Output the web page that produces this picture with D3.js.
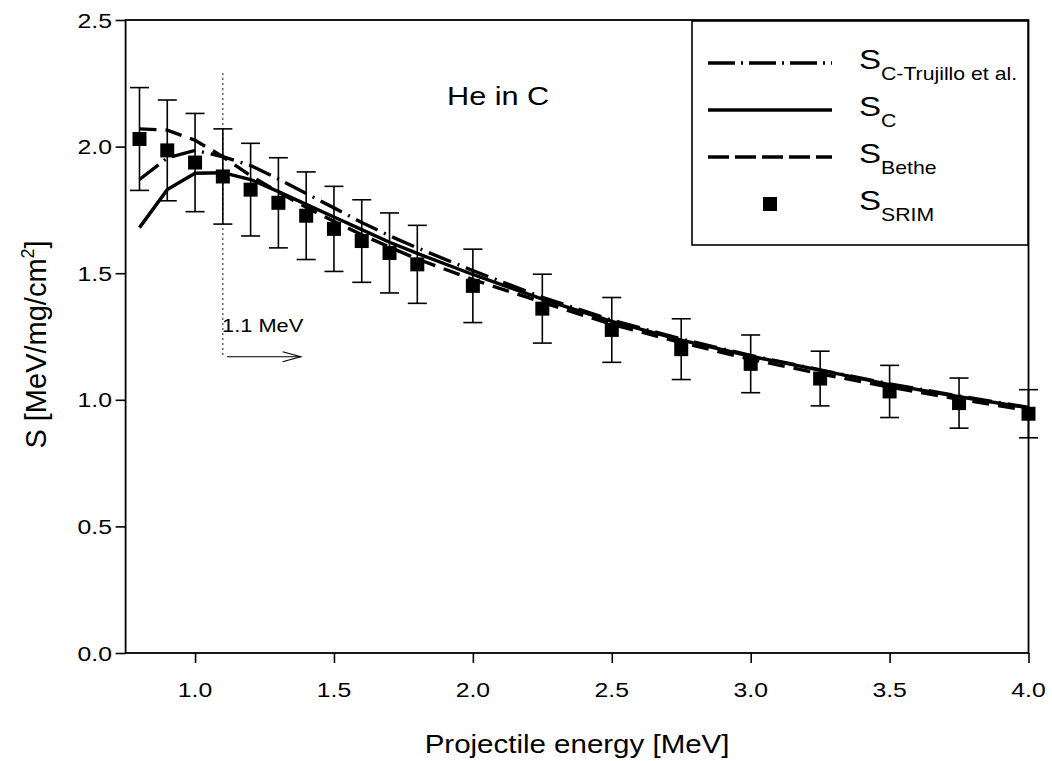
<!DOCTYPE html>
<html>
<head>
<meta charset="utf-8">
<script src="https://cdnjs.cloudflare.com/ajax/libs/d3/7.8.5/d3.min.js"></script>
<style>
  html, body { margin: 0; padding: 0; background: #fff; }
  svg { display: block; }
  text { font-family: "Liberation Sans", Arial, Helvetica, sans-serif; fill: #000; }
</style>
</head>
<body>
<svg id="chart" width="1052" height="761"></svg>
<script>
// ---- data ----
const energies = [0.8, 0.9, 1.0, 1.1, 1.2, 1.3, 1.4, 1.5, 1.6, 1.7, 1.8, 2.0, 2.25, 2.5, 2.75, 3.0, 3.25, 3.5, 3.75, 4.0];
const sTrujillo = [1.87, 1.955, 1.985, 1.96, 1.925, 1.872, 1.815, 1.758, 1.7, 1.648, 1.6, 1.51, 1.405, 1.315, 1.24, 1.175, 1.118, 1.063, 1.015, 0.97];
const sC        = [1.68, 1.83, 1.895, 1.897, 1.87, 1.822, 1.772, 1.722, 1.672, 1.622, 1.578, 1.495, 1.398, 1.31, 1.236, 1.172, 1.117, 1.06, 1.012, 0.968];
const sBethe    = [2.07, 2.065, 2.025, 1.96, 1.885, 1.82, 1.76, 1.705, 1.652, 1.603, 1.556, 1.475, 1.385, 1.298, 1.226, 1.16, 1.103, 1.05, 1.002, 0.958];
const sSRIM     = [2.03, 1.985, 1.937, 1.882, 1.83, 1.778, 1.727, 1.675, 1.627, 1.58, 1.535, 1.45, 1.36, 1.276, 1.2, 1.142, 1.084, 1.033, 0.987, 0.945];
const sSRIMerr  = [0.203, 0.199, 0.194, 0.188, 0.183, 0.178, 0.173, 0.168, 0.163, 0.158, 0.154, 0.145, 0.136, 0.128, 0.12, 0.114, 0.108, 0.103, 0.099, 0.095];
const xTicks = [1.0, 1.5, 2.0, 2.5, 3.0, 3.5, 4.0];
const yTicks = [0.0, 0.5, 1.0, 1.5, 2.0, 2.5];
const markerEnergy = 1.1;
const markerRange = [1.17, 2.29];
const arrowRange = [1.115, 1.38];
const arrowLevel = 1.17;

// ---- layout ----
const svg = d3.select("#chart");
const L = 125.6, R = 1028.5, T = 20, B = 653;
const x = d3.scaleLinear().domain([0.75, 4.0]).range([L, R]);
const y = d3.scaleLinear().domain([0, 2.5]).range([B, T]);
const SX = 1.18; // horizontal text stretch

function stext(g, px, py, str, size, anchor) {
  return g.append("text")
    .attr("transform", `translate(${px},${py}) scale(${SX},1)`)
    .attr("font-size", size)
    .attr("text-anchor", anchor || "start")
    .text(str);
}

// axes
const xAxis = svg.append("g").attr("transform", `translate(0,${B})`)
  .call(d3.axisBottom(x).tickValues(xTicks).tickSize(10).tickFormat(""));
const yAxis = svg.append("g").attr("transform", `translate(${L},0)`)
  .call(d3.axisLeft(y).tickValues(yTicks).tickSize(10).tickFormat(""));
[xAxis, yAxis].forEach(a => {
  a.select(".domain").remove();
  a.selectAll(".tick line").attr("stroke", "#000").attr("stroke-width", 1.6);
});
xTicks.forEach(v => stext(svg, x(v), 697, d3.format(".1f")(v), 21, "middle"));
yTicks.forEach(v => stext(svg, 112, y(v) + 7.5, d3.format(".1f")(v), 21, "end"));

// frame
svg.append("rect").attr("x", L).attr("y", T).attr("width", R - L).attr("height", B - T)
  .attr("fill", "none").attr("stroke", "#000").attr("stroke-width", 1.8);

// axis titles
stext(svg, (L + R) / 2, 753, "Projectile energy [MeV]", 25, "middle");
const yt = svg.append("text")
  .attr("transform", `translate(46,${(T + B) / 2 + 8}) rotate(-90)`)
  .attr("font-size", 29).attr("text-anchor", "middle");
yt.append("tspan").text("S [MeV/mg/cm");
yt.append("tspan").attr("font-size", 18).attr("dy", -12).text("2");
yt.append("tspan").attr("dy", 12).text("]");

// curves
const line = d3.line().x(d => x(d[0])).y(d => y(d[1]));
const series = [
  { vals: sTrujillo, dash: "24,7,2,7" },
  { vals: sC, dash: null },
  { vals: sBethe, dash: "17,9" }
];
series.forEach(s => {
  svg.append("path")
    .datum(energies.map((e, i) => [e, s.vals[i]]))
    .attr("d", line)
    .attr("fill", "none").attr("stroke", "#000").attr("stroke-width", 3.4)
    .attr("stroke-dasharray", s.dash);
});

// error bars + squares
const pts = energies.map((e, i) => ({ e, v: sSRIM[i], err: sSRIMerr[i] }));
const eb = svg.append("g").attr("stroke", "#000").attr("stroke-width", 1.6);
pts.forEach(p => {
  eb.append("line").attr("x1", x(p.e)).attr("x2", x(p.e)).attr("y1", y(p.v - p.err)).attr("y2", y(p.v + p.err));
  [p.v - p.err, p.v + p.err].forEach(w => {
    eb.append("line").attr("x1", x(p.e) - 9.5).attr("x2", x(p.e) + 9.5).attr("y1", y(w)).attr("y2", y(w));
  });
});
svg.append("g").selectAll("rect").data(pts).join("rect")
  .attr("x", d => x(d.e) - 7).attr("y", d => y(d.v) - 7)
  .attr("width", 14).attr("height", 14).attr("fill", "#000");

// 1.1 MeV marker
svg.append("line")
  .attr("x1", x(markerEnergy)).attr("x2", x(markerEnergy))
  .attr("y1", y(markerRange[1])).attr("y2", y(markerRange[0]))
  .attr("stroke", "#000").attr("stroke-width", 1.2).attr("stroke-dasharray", "1.5,3.5");
const ax1 = x(arrowRange[0]), ax2 = x(arrowRange[1]), ay = y(arrowLevel);
svg.append("line").attr("x1", ax1).attr("x2", ax2).attr("y1", ay).attr("y2", ay)
  .attr("stroke", "#000").attr("stroke-width", 1.2);
svg.append("path").attr("d", `M${ax2 - 18},${ay - 5} L${ax2},${ay} L${ax2 - 18},${ay + 5}`)
  .attr("fill", "none").attr("stroke", "#000").attr("stroke-width", 1.2);
stext(svg, 222, 332, "1.1 MeV", 18.5, "start");

// title inside
stext(svg, 447, 105, "He in C", 26, "start");

// legend
const lg = svg.append("g");
lg.append("rect").attr("x", 692).attr("y", 21).attr("width", 336).attr("height", 224)
  .attr("fill", "#fff").attr("stroke", "#000").attr("stroke-width", 1.6);
const legendItems = [
  { sub: "C-Trujillo et al.", dash: "27,6,2,6", ly: 63 },
  { sub: "C", dash: null, ly: 110 },
  { sub: "Bethe", dash: "21,6", ly: 157 },
  { sub: "SRIM", square: true, ly: 204 }
];
legendItems.forEach(it => {
  if (it.square) {
    lg.append("rect").attr("x", 763).attr("y", it.ly - 7).attr("width", 14).attr("height", 14).attr("fill", "#000");
  } else {
    lg.append("line").attr("x1", 708).attr("x2", 832).attr("y1", it.ly).attr("y2", it.ly)
      .attr("stroke", "#000").attr("stroke-width", 3.4).attr("stroke-dasharray", it.dash);
  }
  const t = lg.append("text")
    .attr("transform", `translate(859,${it.ly + 6}) scale(${SX},1)`)
    .attr("font-size", 28);
  t.append("tspan").text("S");
  t.append("tspan").attr("font-size", 18).attr("dy", 11).text(it.sub);
});
</script>
</body>
</html>
